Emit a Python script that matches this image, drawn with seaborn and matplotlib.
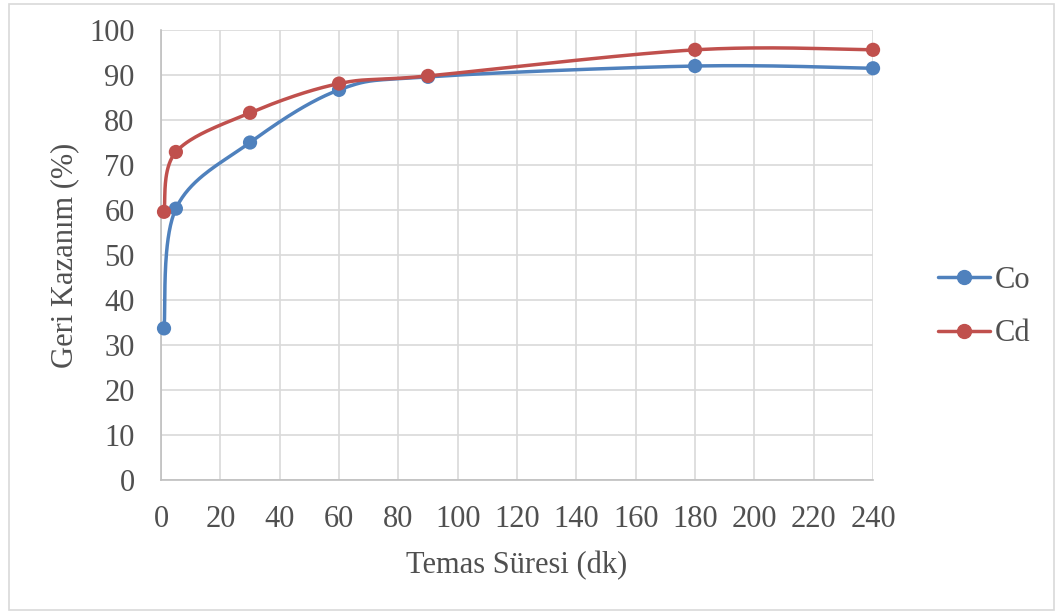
import numpy as np
import pandas as pd
import matplotlib
matplotlib.use("Agg")
import matplotlib.pyplot as plt
from matplotlib.lines import Line2D
from matplotlib.patches import Rectangle
import seaborn as sns

# ---- data ----
time_min = [1, 5, 30, 60, 90, 180, 240]
co_values = [33.7, 60.3, 75.0, 86.7, 89.6, 92.0, 91.5]
cd_values = [59.6, 72.9, 81.6, 88.1, 89.8, 95.6, 95.6]
series_names = ["Co", "Cd"]
x_ticks = list(range(0, 241, 20))
y_ticks = list(range(0, 101, 10))

BLUE = "#4F81BD"
RED = "#C0504D"
TXT = "#505050"
FS = 22

sns.set_style("white")
plt.rcParams["font.family"] = ["Liberation Serif", "DejaVu Serif"]


def smooth(xs, ys, n=40):
    """Excel-like smoothed line (Catmull-Rom via cubic Bezier)."""
    P = np.column_stack([xs, ys]).astype(float)
    m = len(P)
    out = []
    for i in range(m - 1):
        p0 = P[i - 1] if i > 0 else P[i]
        p1 = P[i]
        p2 = P[i + 1]
        p3 = P[i + 2] if i + 2 < m else P[i + 1]
        c1 = p1 + (p2 - p0) / 6.0
        c2 = p2 - (p3 - p1) / 6.0
        t = np.linspace(0, 1, n)[:, None]
        seg = ((1 - t) ** 3) * p1 + 3 * ((1 - t) ** 2) * t * c1 + 3 * (1 - t) * t ** 2 * c2 + t ** 3 * p2
        out.append(seg if i == 0 else seg[1:])
    arr = np.vstack(out)
    return arr[:, 0], arr[:, 1]


fig = plt.figure(figsize=(10.63, 6.14), dpi=100)
ax = fig.add_axes([0.1515, 0.2182, 0.8213 - 0.1515, 0.9511 - 0.2182])

pts = pd.DataFrame({
    "t": time_min * 2,
    "v": co_values + cd_values,
    "s": ["Co"] * len(time_min) + ["Cd"] * len(time_min),
})
palette = {"Co": BLUE, "Cd": RED}

for name, vals in zip(series_names, [co_values, cd_values]):
    sx, sy = smooth(time_min, vals)
    ax.plot(sx, sy, color=palette[name], lw=2.5, solid_capstyle="round", zorder=3)

sns.scatterplot(data=pts, x="t", y="v", hue="s", palette=palette, s=105,
                edgecolor="none", legend=False, ax=ax, zorder=4, clip_on=False)

ax.set_xlim(0, 240)
ax.set_ylim(0, 100)
ax.set_xticks(x_ticks)
ax.set_yticks(y_ticks)
ax.grid(True, color="#D9D9D9", lw=1.2)
ax.set_axisbelow(True)
for sp in ["top", "right"]:
    ax.spines[sp].set_visible(False)
for sp in ["left", "bottom"]:
    ax.spines[sp].set_color("#BFBFBF")
    ax.spines[sp].set_linewidth(1.2)
ax.tick_params(axis="both", length=0, labelsize=FS, colors=TXT)
ax.tick_params(axis="x", pad=18)
ax.tick_params(axis="y", pad=19)
ax.set_xlabel("Temas Süresi (dk)", fontsize=FS, color=TXT, labelpad=12)
ax.set_ylabel("Geri Kazanım (%)", fontsize=FS, color=TXT, labelpad=7)

handles = [Line2D([0], [0], color=palette[n], lw=2.5, marker="o", markersize=10) for n in series_names]
fig.legend(handles, series_names, loc="center left", bbox_to_anchor=(0.857, 0.50),
           frameon=False, fontsize=FS, labelcolor=TXT, handlelength=1.7,
           handletextpad=0.15, labelspacing=0.8)

fig.patches.append(Rectangle((0.008, 0.006), 0.984, 0.988, transform=fig.transFigure,
                             fill=False, edgecolor="#D9D9D9", lw=1.2))

fig.savefig("out.png", dpi=100, facecolor="white")
